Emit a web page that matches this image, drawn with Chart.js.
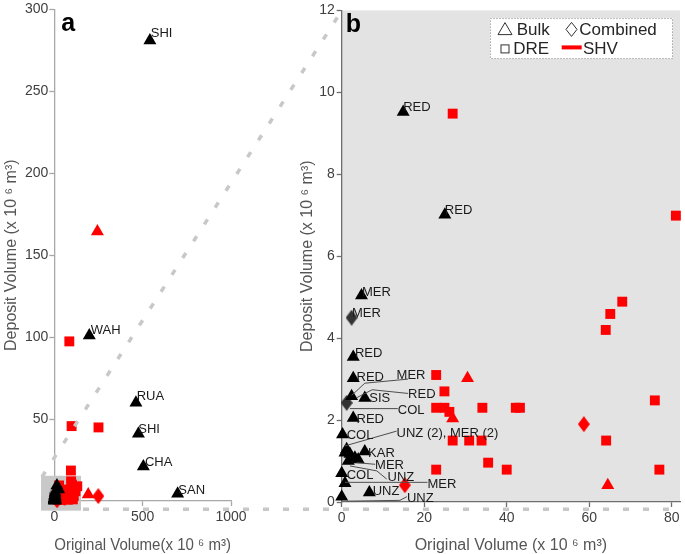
<!DOCTYPE html>
<html>
<head>
<meta charset="utf-8">
<script src="https://cdn.jsdelivr.net/npm/chart.js@4.4.1/dist/chart.umd.min.js"></script>
<style>
html, body { margin: 0; padding: 0; background: #fff; overflow: hidden; width: 685px; height: 554px; }
#wrap { position: relative; width: 685px; height: 554px; }
canvas { position: absolute; top: 0; }
</style>
</head>
<body>
<div id="wrap">
  <canvas id="chartA" width="250" height="554" style="left:0"></canvas>
  <canvas id="chartB" width="430" height="554" style="left:260px"></canvas>
  <canvas id="overlay" width="685" height="554" style="left:0;pointer-events:none"></canvas>
</div>
<script>
// volumes in 10^6 m3 : x = original volume, y = deposit volume

// points inside the zoom window (panel b, also plotted in panel a)
const bulkOrig = [14.9, 25.0, 4.8, 2.8, 2.8, 2.4, 5.6, 2.8, 0.2, 0.8, 2.0, 3.2, 1.6, 4.0, 1.2, 5.6, 0.0, 0.8, 0.0, 6.7];
const bulkDep  = [9.52, 7.01, 5.04, 3.54, 3.02, 2.58, 2.54, 2.05, 1.65, 1.2, 1.17, 1.08, 1.0, 1.04, 1.29, 1.23, 0.7, 0.46, 0.13, 0.23];
const combOrig = [2.4, 1.2];
const combDep  = [4.5, 2.42];
const shvDreOrig = [26.9, 81.0, 68.0, 65.1, 64.0, 22.9, 24.9, 22.9, 24.9, 26.1, 34.1, 42.2, 43.2, 75.9, 26.9, 30.9, 33.9, 64.1, 35.5, 22.9, 40.0, 77.0];
const shvDreDep  = [9.48, 6.99, 4.89, 4.59, 4.2, 3.1, 2.7, 2.3, 2.3, 2.2, 2.3, 2.3, 2.3, 2.48, 1.5, 1.5, 1.5, 1.5, 0.96, 0.79, 0.79, 0.79];
const shvBulkOrig = [30.5, 26.9, 64.5];
const shvBulkDep  = [3.02, 2.04, 0.41];
const shvCombOrig = [15.3, 58.7];
const shvCombDep  = [0.41, 1.9];

// points only visible at the full scale (panel a)
const bigBulkOrig = [541, 198, 462, 476, 504, 698];
const bigBulkDep  = [281, 101, 60, 41, 21, 4.4];
const bigDreOrig = [85, 98, 250, 94, 100, 120, 110, 130, 95, 105];
const bigDreDep  = [97.4, 45.7, 44.9, 18.6, 10, 6, 3, 9, 12, 1];
const bigShvBulkOrig = [244, 192];
const bigShvBulkDep  = [164.5, 4];
const bigShvCombOrig = [249];
const bigShvCombDep  = [3];

// reservoir labels
const labelsA = ['SHI', 'WAH', 'RUA', 'SHI', 'CHA', 'SAN'];
const labelAX = [546, 206, 466, 475, 513, 702];
const labelAY = [283, 102, 61.4, 41.6, 21.4, 4.4];
const labelsB = ['RED', 'RED', 'MER', 'MER', 'RED', 'RED', 'MER', 'RED', 'SIS', 'COL', 'RED', 'COL',
  'UNZ (2), MER (2)', 'KAR', 'MER', 'COL', 'UNZ', 'MER', 'UNZ', 'UNZ'];
const labelBX = [14.9, 25.0, 4.9, 2.5, 3.2, 3.6, 13.3, 16.1, 6.7, 13.6, 3.6, 1.2, 13.3, 6.4, 8.1, 1.2, 11.1, 20.8, 7.5, 15.8];
const labelBY = [9.54, 7.02, 5.04, 4.51, 3.54, 2.96, 3.01, 2.55, 2.45, 2.15, 1.93, 1.54, 1.58, 1.10, 0.81, 0.57, 0.52, 0.34, 0.18, 0.0];
const leaderLines = [
  [[16.1, 3.0], [5.6, 2.9], [2.4, 2.6]],
  [[16.1, 2.65], [7.4, 2.74], [3.7, 2.55]],
  [[13.6, 2.28], [2.0, 2.28]],
  [[13.3, 1.73], [0.8, 1.37]],
  [[8.1, 0.92], [3.6, 0.96]],
  [[10.9, 0.56], [8.5, 0.76], [2.0, 0.88]],
  [[20.8, 0.48], [0.8, 0.48]],
  [[15.8, 0.13], [14.1, 0.04], [1.2, 0.02]]
];

// zoom window marked in panel a
const zoomBoxX = [-75, 151];
const zoomBoxY = [-5.9, 15.4];

const ticksAX = [0, 500, 1000];
const ticksAY = [0, 50, 100, 150, 200, 250, 300];
const ticksBX = [0, 20, 40, 60, 80];
const ticksBY = [0, 2, 4, 6, 8, 10, 12];

const FONT = '"Liberation Sans", Arial, Helvetica, sans-serif';
Chart.defaults.font.family = FONT;

const pts = (xs, ys) => xs.map((x, i) => ({ x: x, y: ys[i] }));

function diamond(color) {
  const c = document.createElement('canvas');
  c.width = 12; c.height = 16;
  const g = c.getContext('2d');
  g.fillStyle = color;
  g.beginPath();
  g.moveTo(6, 0); g.lineTo(12, 8); g.lineTo(6, 16); g.lineTo(0, 8);
  g.closePath();
  g.fill();
  return c;
}
const blackDiamond = diamond('#333333');
const redDiamond = diamond('#ff0000');

function makeDatasets(full) {
  const cat = (a, b) => full ? a.concat(b) : a;
  return [
    { label: 'Bulk', data: pts(cat(bulkOrig, bigBulkOrig), cat(bulkDep, bigBulkDep)), pointStyle: 'triangle', radius: 7.5, backgroundColor: '#000', borderWidth: 0 },
    { label: 'Combined', data: pts(combOrig, combDep), pointStyle: blackDiamond },
    { label: 'SHV DRE', data: pts(cat(shvDreOrig, bigDreOrig), cat(shvDreDep, bigDreDep)), pointStyle: 'rect', radius: 7, backgroundColor: '#ff0000', borderWidth: 0 },
    { label: 'SHV Bulk', data: pts(cat(shvBulkOrig, bigShvBulkOrig), cat(shvBulkDep, bigShvBulkDep)), pointStyle: 'triangle', radius: 7.5, backgroundColor: '#ff0000', borderWidth: 0 },
    { label: 'SHV Combined', data: pts(cat(shvCombOrig, bigShvCombOrig), cat(shvCombDep, bigShvCombDep)), pointStyle: redDiamond }
  ].map(d => Object.assign({ showLine: false, clip: false, hoverRadius: d.radius }, d));
}

function textPlugin(texts, xs, ys, lines) {
  return {
    id: 'pointText',
    afterDatasetsDraw(chart) {
      const { ctx, scales: { x, y } } = chart;
      ctx.save();
      ctx.strokeStyle = '#4d4d4d';
      ctx.lineWidth = 1;
      lines.forEach(pl => {
        ctx.beginPath();
        pl.forEach(([vx, vy], i) => {
          const px = x.getPixelForValue(vx), py = y.getPixelForValue(vy);
          if (i) ctx.lineTo(px, py); else ctx.moveTo(px, py);
        });
        ctx.stroke();
      });
      ctx.font = '13px ' + FONT;
      ctx.fillStyle = '#1a1a1a';
      ctx.textBaseline = 'alphabetic';
      ctx.textAlign = 'left';
      texts.forEach((t, i) => ctx.fillText(t, x.getPixelForValue(xs[i]), y.getPixelForValue(ys[i])));
      ctx.restore();
    }
  };
}

function letterPlugin(letter, dx) {
  return {
    id: 'panelLetter',
    afterDraw(chart) {
      const { ctx, chartArea } = chart;
      ctx.save();
      ctx.font = 'bold 25px ' + FONT;
      ctx.fillStyle = '#000';
      ctx.textBaseline = 'alphabetic';
      ctx.fillText(letter, chartArea.left + dx, chartArea.top + 22);
      ctx.restore();
    }
  };
}

const zoomBoxPlugin = {
  id: 'zoomBox',
  beforeDatasetsDraw(chart) {
    const { ctx, scales: { x, y } } = chart;
    const x0 = x.getPixelForValue(zoomBoxX[0]), x1 = x.getPixelForValue(zoomBoxX[1]);
    const y0 = y.getPixelForValue(zoomBoxY[1]), y1 = y.getPixelForValue(zoomBoxY[0]);
    ctx.save();
    ctx.fillStyle = '#c8c8c8';
    ctx.fillRect(x0, y0, x1 - x0, y1 - y0);
    ctx.restore();
  }
};

const grayAreaPlugin = {
  id: 'grayArea',
  beforeDraw(chart) {
    const { ctx, chartArea: a } = chart;
    ctx.save();
    ctx.fillStyle = '#e3e3e3';
    ctx.fillRect(a.left, a.top, a.right - a.left, a.bottom - a.top);
    ctx.restore();
  }
};

const keyPlugin = {
  id: 'typeKey',
  afterDraw(chart) {
    const { ctx, chartArea: a } = chart;
    const L = a.right - 190, T = a.top + 7.7;
    ctx.save();
    ctx.fillStyle = '#fff';
    ctx.fillRect(L, T, 182.7, 40.6);
    ctx.strokeStyle = '#777';
    ctx.lineWidth = 1;
    ctx.setLineDash([1, 2]);
    ctx.strokeRect(L + 0.5, T + 0.5, 182, 40);
    ctx.setLineDash([]);
    ctx.strokeStyle = '#333';
    // triangle
    ctx.beginPath();
    ctx.moveTo(L + 15, T + 4.5); ctx.lineTo(L + 22, T + 16.5); ctx.lineTo(L + 8, T + 16.5); ctx.closePath();
    ctx.stroke();
    // diamond
    ctx.beginPath();
    ctx.moveTo(L + 81.5, T + 4.3); ctx.lineTo(L + 87, T + 11.3); ctx.lineTo(L + 81.5, T + 18.3); ctx.lineTo(L + 76, T + 11.3); ctx.closePath();
    ctx.stroke();
    // square
    ctx.strokeRect(L + 11, T + 26.8, 8, 8);
    // SHV bar
    ctx.fillStyle = '#ff0000';
    ctx.fillRect(L + 71.7, T + 27.3, 20, 4);
    ctx.fillStyle = '#262626';
    ctx.font = '17px ' + FONT;
    ctx.textBaseline = 'alphabetic';
    ctx.fillText('Bulk', L + 26.7, T + 16.6);
    ctx.fillText('Combined', L + 89.3, T + 16.6);
    ctx.fillText('DRE', L + 23.3, T + 35.6);
    ctx.fillText('SHV', L + 93, T + 35.6);
    ctx.restore();
  }
};

function axis(opts) {
  return {
    type: 'linear',
    min: opts.min,
    max: opts.max,
    afterBuildTicks: s => { s.ticks = opts.ticks.map(v => ({ value: v })); },
    afterFit: opts.fit,
    border: { color: opts.lineColor, width: 1.3 },
    grid: { drawOnChartArea: false, tickLength: 5, color: opts.lineColor, tickWidth: 1.3 },
    ticks: { color: '#404040', font: { size: 14 }, padding: opts.pad, maxRotation: 0, includeBounds: false, callback: v => String(v) },
    title: { display: true, text: opts.title, color: '#555', font: { size: 16, lineHeight: 1.1 }, padding: 0 }
  };
}

const chartA = new Chart(document.getElementById('chartA'), {
  type: 'scatter',
  data: { datasets: makeDatasets(true) },
  options: {
    responsive: false,
    animation: false,
    layout: { padding: { left: 3, top: 6, right: 19, bottom: 0 } },
    plugins: { legend: { display: false }, tooltip: { enabled: false } },
    scales: {
      x: axis({ min: 0, max: 1000, ticks: ticksAX, lineColor: '#a8a8a8', pad: 3, title: 'Original Volume(x 10 ⁶ m³)', fit: s => { s.height = 53; } }),
      y: axis({ min: 0, max: 300, ticks: ticksAY, lineColor: '#a8a8a8', pad: 1, title: 'Deposit Volume (x 10 ⁶ m³)', fit: s => { s.width = 51.3; } })
    }
  },
  plugins: [zoomBoxPlugin, textPlugin(labelsA, labelAX, labelAY, []), letterPlugin('a', 7)]
});

const chartB = new Chart(document.getElementById('chartB'), {
  type: 'scatter',
  data: { datasets: makeDatasets(false) },
  options: {
    responsive: false,
    animation: false,
    layout: { padding: { left: 39, top: 5, right: 10, bottom: 0 } },
    plugins: { legend: { display: false }, tooltip: { enabled: false } },
    scales: {
      x: axis({ min: 0, max: 82, ticks: ticksBX, lineColor: '#6e6e6e', pad: 3, title: 'Original Volume (x 10 ⁶ m³)', fit: s => { s.height = 52; } }),
      y: axis({ min: 0, max: 12, ticks: ticksBY, lineColor: '#6e6e6e', pad: 2, title: 'Deposit Volume (x 10 ⁶ m³)', fit: s => { s.width = 42.7; } })
    }
  },
  plugins: [grayAreaPlugin, textPlugin(labelsB, labelBX, labelBY, leaderLines), keyPlugin, letterPlugin('b', 4)]
});

// dashed guide lines tying the zoom window in panel a to panel b
(function drawGuides() {
  const g = document.getElementById('overlay').getContext('2d');
  const ax = chartA.scales.x, ay = chartA.scales.y;
  const offB = 260;
  const bx0 = ax.getPixelForValue(zoomBoxX[0]), bx1 = ax.getPixelForValue(zoomBoxX[1]);
  const byTop = ay.getPixelForValue(zoomBoxY[1]), byBot = ay.getPixelForValue(zoomBoxY[0]);
  const area = chartB.chartArea;
  g.strokeStyle = '#c8c8c8';
  g.lineWidth = 3.5;
  g.setLineDash([6, 14]);
  g.beginPath();
  g.moveTo(bx0 + 1, byTop + 1);
  g.lineTo(area.left + offB - 3, area.top + 5);
  g.stroke();
  g.beginPath();
  g.moveTo(bx1 + 2, byBot - 1.5);
  g.lineTo(area.right + offB, byBot - 1.5);
  g.stroke();
})();
</script>
</body>
</html>
